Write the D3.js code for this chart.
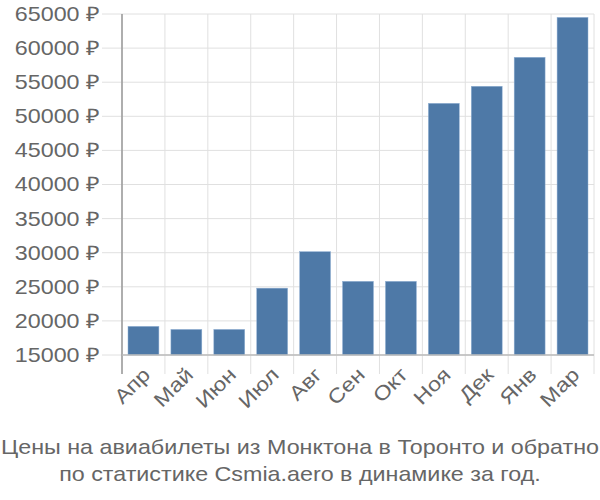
<!DOCTYPE html>
<html><head><meta charset="utf-8">
<script src="https://cdn.jsdelivr.net/npm/d3@7"></script>
<style>body{margin:0;background:#fff}svg{display:block}text{font-family:"Liberation Sans",Arial,sans-serif}</style>
</head><body><div id="chart"></div>
<script>
const months = ["Апр","Май","Июн","Июл","Авг","Сен","Окт","Ноя","Дек","Янв","Мар"];
const prices = [19200,18750,18750,24800,30150,25800,25800,51900,54400,58650,64500];
const yTicks = [15000,20000,25000,30000,35000,40000,45000,50000,55000,60000,65000];
const titleLines = ["Цены на авиабилеты из Монктона в Торонто и обратно","по статистике Csmia.aero в динамике за год."];

(function(){
const W=600,H=500, mLeft=122, mRight=594, mTop=14, mBottom=355;
const SX=1.165;
const svg=d3.select("#chart").append("svg").attr("width",W).attr("height",H);
const x=d3.scaleBand().domain(months).range([mLeft,mRight]).paddingInner(0.28).paddingOuter(0.14);
const y=d3.scaleLinear().domain([15000,65000]).range([mBottom,mTop]);

const step=x.step();
const bounds=d3.range(months.length+1).map(i=>mLeft+i*step);
svg.append("g").selectAll("line").data(bounds).join("line")
 .attr("x1",d=>d).attr("x2",d=>d).attr("y1",mTop).attr("y2",mBottom+19)
 .attr("stroke","#e0e0e0").attr("stroke-width",1);
svg.append("g").selectAll("line").data(yTicks).join("line")
 .attr("x1",mLeft-20).attr("x2",mRight).attr("y1",d=>y(d)).attr("y2",d=>y(d))
 .attr("stroke","#e0e0e0").attr("stroke-width",1);

svg.append("g").selectAll("rect").data(prices).join("rect")
 .attr("x",(d,i)=>x(months[i])).attr("width",x.bandwidth())
 .attr("y",d=>y(d)).attr("height",d=>y(15000)-y(d))
 .attr("fill","#4e79a7").attr("stroke","#8fb0d4").attr("stroke-width",0.5);

// y axis via d3 axis, then stretch labels
const yAxis=d3.axisLeft(y).tickValues(yTicks).tickSize(0).tickPadding(0).tickFormat(d=>d+" ₽");
const gy=svg.append("g").attr("transform",`translate(100,0)`).call(yAxis);
gy.select(".domain").remove();
gy.selectAll("text").attr("font-size",20).attr("fill","#666").attr("x",0)
 .attr("font-family","Liberation Sans, Arial, sans-serif")
 .attr("transform",`scale(${SX},1)`);
svg.append("line").attr("x1",mLeft).attr("x2",mLeft).attr("y1",mTop).attr("y2",mBottom+19).attr("stroke","#999").attr("stroke-width",1.5);
svg.append("line").attr("x1",mLeft).attr("x2",mRight).attr("y1",mBottom).attr("y2",mBottom).attr("stroke","#bbb").attr("stroke-width",1.5);

const xAxis=d3.axisBottom(x).tickSize(0).tickPadding(0);
const gx=svg.append("g").attr("transform",`translate(0,0)`).call(xAxis);
gx.select(".domain").remove();
gx.selectAll(".tick").attr("transform",null);
gx.selectAll("text").attr("font-size",20).attr("fill","#666")
 .attr("font-family","Liberation Sans, Arial, sans-serif")
 .attr("text-anchor","end").attr("dy",null).attr("y",null).attr("x",null)
 .attr("transform",d=>`translate(${x(d)+x.bandwidth()/2+8},${mBottom+21}) rotate(-45) scale(${SX},1)`);

svg.append("g").selectAll("text").data(titleLines).join("text")
 .attr("text-anchor","middle")
 .attr("transform",(d,i)=>`translate(${W/2},${454+i*27}) scale(${SX},1)`)
 .attr("font-size",20).attr("fill","#666").text(d=>d);
})();
</script></body></html>
